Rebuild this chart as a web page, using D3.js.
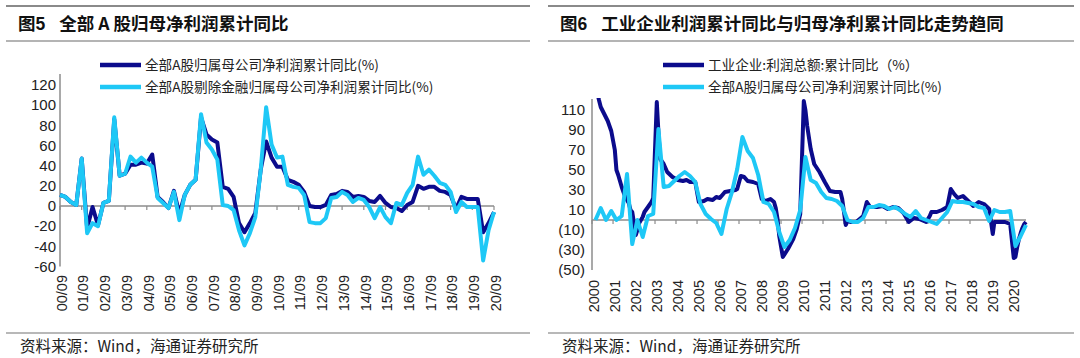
<!DOCTYPE html>
<html><head><meta charset="utf-8">
<script src="https://cdn.jsdelivr.net/npm/d3@7"></script>
<style>body{margin:0;background:#fff}svg{display:block}</style>
</head><body><svg id="c" width="1080" height="358"></svg>
<script>
// ---------- Left chart (Figure 5) : quarterly, 00/09 .. 20/09 ----------
const leftTitle = "全部 A 股归母净利润累计同比";
const leftTickLabels = ["00/09","01/09","02/09","03/09","04/09","05/09","06/09","07/09","08/09","09/09","10/09",
  "11/09","12/09","13/09","14/09","15/09","16/09","17/09","18/09","19/09","20/09"];
const leftSeriesNames = ["全部A股归属母公司净利润累计同比(%)","全部A股剔除金融归属母公司净利润累计同比(%)"];
const leftAll = [11,9,4,1,47,-22,-1,-19,3,5,86,30,32,41,41,43,42,51,9,4,-2,15,-8,11,21,26,88,71,66,63,
  19,17,9,-17,-26,-17,-7,36,64,48,39,39,26,24,21,14,0,-1,-1,1,11,12,15,14,9,10,9,5,4,10,3,-1,-2,-5,1,4,
  20,17,19,19,15,14,11,-3,9,7,7,7,-26,-17,-6];
const leftExFin = [11,9,4,1,47,-27,-17,-20,3,5,88,30,32,49,43,48,43,39,8,3,-2,14,-14,11,21,26,91,63,56,46,
  1,0,-4,-24,-39,-27,-11,36,98,61,48,49,21,19,18,11,-16,-17,-17,-12,8,9,14,11,4,8,6,-1,-12,-1,-11,-17,3,1,13,21,
  49,31,36,30,23,21,14,-6,4,-1,-1,-1,-54,-24,-6];
const leftYTicks = [-60,-40,-20,0,20,40,60,80,100,120];

// ---------- Right chart (Figure 6) : monthly axis 2000 .. 2020/09 ----------
const rightTitle = "工业企业利润累计同比与归母净利累计同比走势趋同";
const rightSeriesNames = ["工业企业:利润总额:累计同比（%）","全部A股归属母公司净利润累计同比(%)"];
const rightYearLabels = ["2000","2001","2002","2003","2004","2005","2006","2007","2008","2009","2010",
  "2011","2012","2013","2014","2015","2016","2017","2018","2019","2020"];
const indDates = ["2000-02","2000-04","2000-05","2000-06","2000-08","2000-10","2000-12","2001-02","2001-03","2001-04",
  "2001-06","2001-08","2001-10","2001-11","2001-12","2002-02","2002-03","2002-04","2002-06","2002-07","2002-09",
  "2002-11","2002-12","2003-02","2003-03","2003-04","2003-06","2003-08","2003-11","2004-02","2004-05","2004-07",
  "2004-09","2004-12","2005-02","2005-05","2005-07","2005-10","2005-12","2006-02","2006-05","2006-08","2006-11",
  "2006-12","2007-02","2007-04","2007-06","2007-09","2007-12","2008-02","2008-04","2008-07","2008-09","2008-10",
  "2008-11","2008-12","2009-02","2009-05","2009-08","2009-10","2009-12","2010-02","2010-03","2010-04","2010-06",
  "2010-08","2010-11","2011-02","2011-05","2011-08","2011-11","2011-12","2012-02","2012-03","2012-05","2012-08",
  "2012-12","2013-02","2013-04","2013-08","2013-11","2014-02","2014-05","2014-08","2014-11","2015-02","2015-05",
  "2015-08","2015-12","2016-02","2016-03","2016-06","2016-09","2016-12","2017-02","2017-04","2017-06","2017-09",
  "2017-12","2018-03","2018-06","2018-09","2018-12","2019-02","2019-03","2019-06","2019-09","2019-12","2020-02",
  "2020-03","2020-04","2020-05","2020-06","2020-07","2020-08","2020-09"];
const indValues = [150,128,120,113,106,99,89,70,50,45,
  33,23,17,10,8,-15,-10,-3,3,8,13,
  18,22,118,88,61,56,48,43,40,39,40,
  38,38,18,19,21,20,23,22,28,29,30,
  31,44,43,39,38,36,21,19,21,18,12,
  1,-16,-37,-29,-19,-9,6,119,110,94,71,
  56,48,38,29,28,28,21,-5,-1,-2,-2,
  4,18,13,13,14,11,13,12,7,-2,2,
  1,-2,4,8,8,10,13,31,26,22,24,
  19,14,18,16,11,-14,-2,-2,-2,-4,-38,
  -37,-27,-19,-13,-8,-4,-2];
const ashareDates = ["2000-03","2000-06","2000-09","2000-12","2001-03","2001-06","2001-09","2001-12","2002-03","2002-06",
  "2002-09","2002-12","2003-03","2003-06","2003-09","2003-12","2004-03","2004-06","2004-09","2004-12","2005-03",
  "2005-06","2005-09","2005-12","2006-03","2006-06","2006-09","2006-12","2007-03","2007-06","2007-09","2007-12",
  "2008-03","2008-06","2008-09","2008-12","2009-03","2009-06","2009-09","2009-12","2010-03","2010-06","2010-09",
  "2010-12","2011-03","2011-06","2011-09","2011-12","2012-03","2012-06","2012-09","2012-12","2013-03","2013-06",
  "2013-09","2013-12","2014-03","2014-06","2014-09","2014-12","2015-03","2015-06","2015-09","2015-12","2016-03",
  "2016-06","2016-09","2016-12","2017-03","2017-06","2017-09","2017-12","2018-03","2018-06","2018-09","2018-12",
  "2019-03","2019-06","2019-09","2019-12","2020-03","2020-06","2020-09"];
const ashareValues = [0,12,0,9,0,4,46,-24,0,-17,
  4,6,91,33,34,39,44,48,44,38,16,
  6,1,-3,-14,11,28,51,83,69,62,45,
  18,16,8,-12,-27,-20,-8,10,63,40,37,
  28,22,21,19,14,0,-2,-2,2,13,13,
  15,14,11,13,10,6,3,9,2,0,-2,
  -4,2,8,19,18,18,17,16,13,12,-1,
  10,8,8,9,-26,-16,-5];
const rightYTicks = [-50,-30,-10,10,30,50,70,90,110];
const sourceText = "资料来源：Wind，海通证券研究所";

// ---------- styles ----------
const DARK = "#0b0b8c", LIGHT = "#1ec8f6", AXIS = "#8c8c8c";
const CJK = "'Noto Sans CJK SC','Noto Sans',sans-serif";
const NUM = "'Liberation Sans',Arial,sans-serif";

const svg = d3.select("#c");
svg.append("rect").attr("width",1080).attr("height",358).attr("fill","#fff");

function frame(x0, x1, num, title) {
  const g = svg.append("g");
  g.append("line").attr("x1",x0).attr("x2",x1).attr("y1",6).attr("y2",6).attr("stroke","#8a8a8a").attr("stroke-width",2);
  g.append("line").attr("x1",x0).attr("x2",x1).attr("y1",41).attr("y2",41).attr("stroke","#b4b4b4").attr("stroke-width",2);
  g.append("line").attr("x1",x0).attr("x2",x1).attr("y1",333).attr("y2",333).attr("stroke","#a0a0a0").attr("stroke-width",1.5);
  const t = g.append("text").attr("x",x0+12).attr("y",30).attr("font-family",CJK).attr("font-size",17.5)
    .attr("font-weight","bold").attr("fill","#111");
  t.append("tspan").text("图");
  t.append("tspan").attr("font-family",NUM).text(num);
  t.append("tspan").attr("dx",14).text(title);
  g.append("text").attr("x",x0+14).attr("y",352).attr("font-family",CJK).attr("font-size",15.5)
    .attr("fill","#222").text(sourceText);
}
frame(6, 530, "5", leftTitle);
frame(548, 1074, "6", rightTitle);

function legend(x, names) {
  [DARK, LIGHT].forEach((c,i) => {
    const y = 65 + i*22;
    svg.append("line").attr("x1",x).attr("x2",x+41).attr("y1",y).attr("y2",y).attr("stroke",c).attr("stroke-width",4.5);
    svg.append("text").attr("x",x+45).attr("y",y).attr("dy","0.36em").attr("font-family",CJK)
      .attr("font-size",13.6).attr("fill","#222").text(names[i]);
  });
}

function styleYAxis(sel) {
  sel.select(".domain").remove();
  sel.selectAll(".tick line").remove();
  sel.selectAll(".tick text").attr("font-family",NUM).attr("font-size",15).attr("fill","#222");
}

// ---------- Left chart ----------
{
  const x = d3.scaleLinear().domain([0, leftAll.length-1]).range([60, 494]);
  const y = d3.scaleLinear().domain([-60, 120]).range([266.5, 85]);
  const g = svg.append("g");
  g.append("line").attr("x1",60).attr("x2",60).attr("y1",y(131)).attr("y2",y(-60)).attr("stroke",AXIS).attr("stroke-width",1.5);
  g.append("g").attr("transform","translate(60,0)")
    .call(d3.axisLeft(y).tickValues(leftYTicks).tickSize(0).tickPadding(4).tickFormat(v => String(v)))
    .call(styleYAxis);
  g.append("line").attr("x1",60).attr("x2",494).attr("y1",y(0)).attr("y2",y(0)).attr("stroke",AXIS).attr("stroke-width",1.5);
  leftTickLabels.forEach((lab,k) => {
    const xi = x(k*4);
    g.append("line").attr("x1",xi).attr("x2",xi).attr("y1",y(0)).attr("y2",y(0)+4).attr("stroke",AXIS).attr("stroke-width",1.2);
    g.append("text").attr("transform",`translate(${xi+1.5},275) rotate(-90)`).attr("dy","0.36em")
      .attr("text-anchor","end").attr("font-family",NUM).attr("font-size",14.5).attr("fill","#222").text(lab);
  });
  const line = d3.line().x((d,i)=>x(i)).y(d=>y(d)).curve(d3.curveLinear);
  g.append("path").attr("d",line(leftAll)).attr("fill","none").attr("stroke",DARK).attr("stroke-width",4).attr("stroke-linejoin","round");
  g.append("path").attr("d",line(leftExFin)).attr("fill","none").attr("stroke",LIGHT).attr("stroke-width",4).attr("stroke-linejoin","round");
  legend(100, leftSeriesNames);
}

// ---------- Right chart ----------
{
  const parse = d3.timeParse("%Y-%m");
  const x = d3.scaleTime().domain([parse("2000-01"), parse("2020-09")]).range([592, 1026]);
  const y = d3.scaleLinear().domain([-50, 110]).range([270, 110]);
  const g = svg.append("g");
  svg.append("clipPath").attr("id","rc").append("rect").attr("x",590).attr("y",y(122)).attr("width",450).attr("height",200);
  g.append("line").attr("x1",592).attr("x2",592).attr("y1",y(121)).attr("y2",y(-50)).attr("stroke",AXIS).attr("stroke-width",1.5);
  g.append("g").attr("transform","translate(592,0)")
    .call(d3.axisLeft(y).tickValues(rightYTicks).tickSize(0).tickPadding(7).tickFormat(v => v < 0 ? `(${-v})` : String(v)))
    .call(styleYAxis);
  g.append("line").attr("x1",592).attr("x2",1026).attr("y1",y(0)).attr("y2",y(0)).attr("stroke",AXIS).attr("stroke-width",1.5);
  rightYearLabels.forEach(lab => {
    const xi = x(parse(lab + "-01"));
    g.append("line").attr("x1",xi).attr("x2",xi).attr("y1",y(0)).attr("y2",y(0)+4).attr("stroke",AXIS).attr("stroke-width",1.2);
    g.append("text").attr("transform",`translate(${xi+1.5},280) rotate(-90)`).attr("dy","0.36em")
      .attr("text-anchor","end").attr("font-family",NUM).attr("font-size",14.5).attr("fill","#222").text(lab);
  });
  const ind = indDates.map((d,i)=>({d:parse(d), v:indValues[i]}));
  const ash = ashareDates.map((d,i)=>({d:parse(d), v:ashareValues[i]}));
  const line = d3.line().x(p=>x(p.d)).y(p=>y(p.v));
  const pg = g.append("g").attr("clip-path","url(#rc)");
  pg.append("path").attr("d",line(ind)).attr("fill","none").attr("stroke",DARK).attr("stroke-width",4).attr("stroke-linejoin","round");
  pg.append("path").attr("d",line(ash)).attr("fill","none").attr("stroke",LIGHT).attr("stroke-width",4).attr("stroke-linejoin","round");
  legend(663, rightSeriesNames);
}
</script>
</body></html>
